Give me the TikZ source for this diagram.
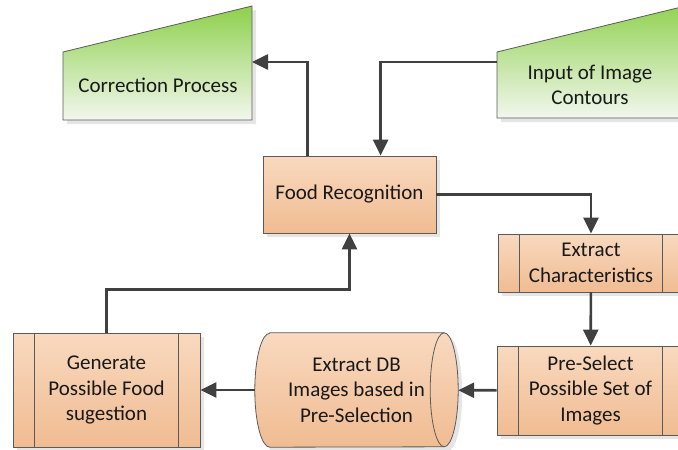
\documentclass[tikz,border=0pt]{standalone}
\usepackage{fontspec}
\setmainfont{Carlito}
\usetikzlibrary{arrows.meta,shadows,calc,backgrounds}

\definecolor{linegray}{HTML}{404040}
\definecolor{edgegray}{HTML}{5A5A5A}
\definecolor{peachtop}{HTML}{F9D9BF}
\definecolor{peachbot}{HTML}{F0BC92}
\definecolor{greentop}{HTML}{8ED04C}
\definecolor{greenbot}{HTML}{F2F7EE}

\tikzset{
  flow/.style={draw=linegray, line width=2.6pt, -{Triangle[length=16pt,width=15pt]}},
  softshadow/.style={drop shadow={shadow xshift=4pt, shadow yshift=-4pt, opacity=.25, fill=black!40}},
  peach/.style={draw=edgegray, line width=0.8pt, top color=peachtop, bottom color=peachbot, softshadow},
  procbox/.style={peach, align=center, inner sep=0pt},
  manual/.style={draw=edgegray, line width=0.8pt, top color=greentop, bottom color=greenbot, softshadow},
}

\begin{document}
\begin{tikzpicture}[x=1pt, y=-1pt, font=\fontsize{21}{25.5}\selectfont, text=black!90]
  \useasboundingbox (0,0) rectangle (678,450);

  % manual input shapes
  \path[manual] (63,52) -- (252,6) -- (252,120) -- (63,120) -- cycle;
  \path[manual] (497,52) -- (710,0) -- (710,118) -- (497,118) -- cycle;
  \node (corr) at (158,85) {Correction Process};
  \node[align=center] (inp) at (590,85) {Input of Image\\Contours};
  \coordinate (corrin) at (252,62);
  \coordinate (inpout) at (497,62);

  % process boxes
  \node[procbox, minimum width=173, minimum height=77] (food) at (349.5,194.5) {Food Recognition};
  \node[procbox, minimum width=186, minimum height=58] (extract) at (591,263) {Extract\\Characteristics};
  \node[procbox, minimum width=187, minimum height=89] (presel) at (590.5,390.5) {Pre-Select\\Possible Set of\\Images};
  \node[procbox, minimum width=187, minimum height=114] (gen) at (106.5,390) {Generate\\Possible Food\\sugestion};

  % direct data store, lying on its side
  \node[align=center, minimum width=203, minimum height=114, inner sep=0pt] (db) at (356.5,390)
    {Extract DB\\Images based in\\Pre-Selection};
  \begin{scope}[on background layer]
    \path[peach] ($(db.north west)+(15,0)$) -- ($(db.north east)+(-14,0)$)
      arc[start angle=-90, end angle=90, x radius=14, y radius=57]
      -- ($(db.south west)+(15,0)$)
      arc[start angle=90, end angle=270, x radius=15, y radius=57] -- cycle;
    \draw[edgegray, line width=0.8pt] ($(db.north east)+(-14,0)$)
      arc[start angle=-90, end angle=-270, x radius=14, y radius=57];
  \end{scope}

  % side bars of the predefined processes
  \foreach \n in {extract,presel,gen} {
    \draw[edgegray, line width=0.8pt] ($(\n.north west)+(22,0)$) -- ($(\n.south west)+(22,0)$);
    \draw[edgegray, line width=0.8pt] ($(\n.north east)+(-22,0)$) -- ($(\n.south east)+(-22,0)$);
  }

  % connectors
  \draw[flow] ($(food.north west)+(45,0)$) |- (corrin);
  \draw[flow] (inpout) -| ($(food.north west)+(118,0)$);
  \draw[flow] (food.east) -| (extract.north);
  \draw[flow] (extract) -- (presel);
  \draw[flow] (presel) -- (db);
  \draw[flow] (db) -- (gen);
  \draw[flow] (gen.north) -- ++(0,-43) -| (food.south);
\end{tikzpicture}
\end{document}
